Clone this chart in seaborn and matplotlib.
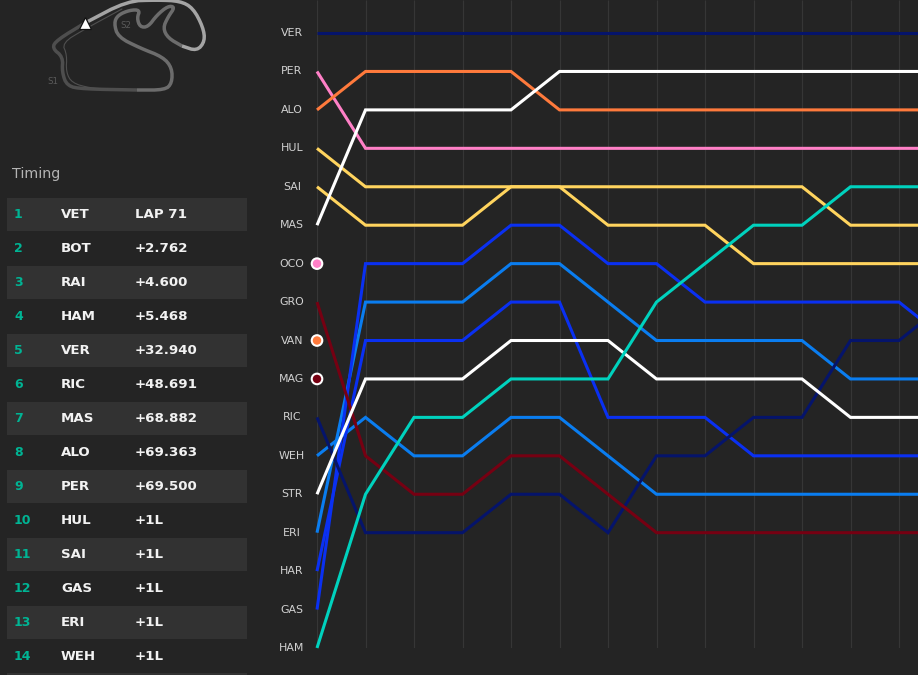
import matplotlib
matplotlib.use('Agg')
import matplotlib.pyplot as plt
import numpy as np
import pandas as pd
import seaborn as sns

# --- data ---
start_order = ['VER', 'PER', 'ALO', 'HUL', 'SAI', 'MAS', 'OCO', 'GRO', 'VAN', 'MAG',
               'RIC', 'WEH', 'STR', 'ERI', 'HAR', 'GAS', 'HAM']

laps = list(range(14))
pos_VER = [1, 1, 1, 1, 1, 1, 1, 1, 1, 1, 1, 1, 1, 1]
pos_PER = [2, 4, 4, 4, 4, 4, 4, 4, 4, 4, 4, 4, 4, 4]
pos_ALO = [3, 2, 2, 2, 2, 3, 3, 3, 3, 3, 3, 3, 3, 3]
pos_HUL = [4, 5, 5, 5, 5, 5, 5, 5, 5, 5, 5, 6, 6, 6]
pos_SAI = [5, 6, 6, 6, 5, 5, 6, 6, 6, 7, 7, 7, 7, 7]
pos_MAS = [6, 3, 3, 3, 3, 2, 2, 2, 2, 2, 2, 2, 2, 2]
pos_GRO = [8, 12, 13, 13, 12, 12, 13, 14, 14, 14, 14, 14, 14, 14]
pos_RIC = [11, 14, 14, 14, 13, 13, 14, 12, 12, 11, 11, 9, 9, 8]
pos_WEH = [12, 11, 12, 12, 11, 11, 12, 13, 13, 13, 13, 13, 13, 13]
pos_STR = [13, 10, 10, 10, 9, 9, 9, 10, 10, 10, 10, 11, 11, 11]
pos_ERI = [14, 8, 8, 8, 7, 7, 8, 9, 9, 9, 9, 10, 10, 10]
pos_HAR = [15, 9, 9, 9, 8, 8, 11, 11, 11, 12, 12, 12, 12, 12]
pos_GAS = [16, 7, 7, 7, 6, 6, 7, 7, 8, 8, 8, 8, 8, 9]
pos_HAM = [17, 13, 11, 11, 10, 10, 10, 8, 7, 6, 6, 5, 5, 5]

retired = ['OCO', 'VAN', 'MAG']

timing_names = ['VET', 'BOT', 'RAI', 'HAM', 'VER', 'RIC', 'MAS', 'ALO', 'PER', 'HUL',
                'SAI', 'GAS', 'ERI', 'WEH']
timing_gaps = ['LAP 71', '+2.762', '+4.600', '+5.468', '+32.940', '+48.691', '+68.882',
               '+69.363', '+69.500', '+1L', '+1L', '+1L', '+1L', '+1L']

driver_colors = {
    'VER': '#05146b', 'RIC': '#05146b',
    'PER': '#ff80c7', 'OCO': '#ff80c7',
    'ALO': '#ff7a3c', 'VAN': '#ff7a3c',
    'HUL': '#ffd45e', 'SAI': '#ffd45e',
    'MAS': '#ffffff', 'STR': '#ffffff',
    'GRO': '#760012', 'MAG': '#760012',
    'WEH': '#0a7df0', 'ERI': '#0a7df0',
    'HAR': '#0a30f2', 'GAS': '#0a30f2',
    'HAM': '#00d2be',
}

# track map outline, pixels of the figure
track_bright = [(85, 23), (127, 1), (157, 0), (180, 1), (193, 8), (203, 27), (205, 41),
                (197, 51), (182, 46)]
track_mid = [(182, 46), (168, 38), (163, 28), (168, 17), (175, 7), (168, 6), (157, 15),
             (148, 27), (140, 27), (137, 18), (140, 10), (130, 10), (118, 15), (114, 23),
             (118, 37), (140, 48), (163, 57), (172, 68), (172, 83), (165, 90), (137, 90)]
track_dark = [(137, 90), (83, 89), (67, 86), (62, 72), (63, 57), (52, 48), (57, 40), (85, 23)]
pit_lane = [(122, 9), (85, 29), (62, 43), (67, 55), (66, 72), (72, 83), (90, 88), (108, 89)]


def smooth(path, passes=2):
    # corner cutting so the circuit does not look polygonal
    pts = np.array(path, dtype=float)
    for _ in range(passes):
        q = 0.75 * pts[:-1] + 0.25 * pts[1:]
        r = 0.25 * pts[:-1] + 0.75 * pts[1:]
        mid = np.empty((len(q) + len(r), 2))
        mid[0::2] = q
        mid[1::2] = r
        pts = np.vstack([pts[0], mid, pts[-1]])
    return pts


BG = '#242424'
W, H = 918, 675

rows = [(lap, p, name) for name, vals in [
    ('WEH', pos_WEH), ('ERI', pos_ERI), ('HAR', pos_HAR), ('GAS', pos_GAS),
    ('RIC', pos_RIC), ('GRO', pos_GRO), ('VER', pos_VER), ('SAI', pos_SAI), ('HUL', pos_HUL),
    ('STR', pos_STR), ('HAM', pos_HAM), ('PER', pos_PER), ('ALO', pos_ALO), ('MAS', pos_MAS),
] for lap, p in zip(laps, vals)]
df = pd.DataFrame(rows, columns=['lap', 'position', 'driver'])

sns.set_style('dark')
plt.rcParams['font.family'] = ['DejaVu Sans']

fig = plt.figure(figsize=(W / 100, H / 100), dpi=100, facecolor=BG)

# pixel-space panel behind everything for the left column
bg = fig.add_axes([0, 0, 1, 1])
bg.set_xlim(0, W)
bg.set_ylim(H, 0)
bg.axis('off')

for i, (name, gap) in enumerate(zip(timing_names, timing_gaps)):
    y = 213.5 + 34 * i
    if i % 2 == 0:
        bg.fill_between([7, 247], y - 15.5, y + 17.5, color='#323232', lw=0)
    bg.text(14, y, str(i + 1), color='#00b494', fontsize=9, fontweight='bold', va='center_baseline')
    bg.text(61, y, name, color='#f2f2f2', fontsize=9.6, fontweight='bold', va='center_baseline')
    bg.text(135, y, gap, color='#f2f2f2', fontsize=9.6, fontweight='bold', va='center_baseline')
# next row starts below the crop
bg.fill_between([7, 247], 673, 675, color='#323232', lw=0)

bg.text(12, 172.5, 'Timing', color='#b4b4b4', fontsize=10.3, va='center_baseline')

for path, col in [(track_dark, '#4e4e4e'), (track_mid, '#6c6c6c'), (track_bright, '#a4a4a4')]:
    pts = smooth(path)
    bg.plot(pts[:, 0], pts[:, 1], color=col, lw=2.5, solid_joinstyle='round', solid_capstyle='butt')
pts = smooth(pit_lane)
bg.plot(pts[:, 0], pts[:, 1], color='#505050', lw=0.8)
bg.plot([85], [22.5], marker='^', ms=8, mfc='white', mec='#111111', mew=0.9)
bg.text(47, 81.5, 'S1', color='#5a5a5a', fontsize=6.2, va='center')
bg.text(120, 25.5, 'S2', color='#5a5a5a', fontsize=6.2, va='center')

# position chart
ROW = 38.41
LAP = 48.5
ax = fig.add_axes([317 / W, 1 - 648 / H, (W - 317) / W, 648 / H])
ax.set_facecolor('none')
sns.lineplot(data=df, x='lap', y='position', hue='driver', palette=driver_colors,
             hue_order=list(dict.fromkeys(df['driver'])), estimator=None, sort=False,
             legend=False, lw=2.2, ax=ax, solid_joinstyle='miter', solid_capstyle='butt',
             clip_on=False)
ax.vlines(laps, 1 - 33 / ROW, 17, color='#363636', lw=0.85, zorder=0)
ax.set_xlim(0, (W - 317) / LAP)
ax.set_ylim(17, 1 - 33 / ROW)
ax.axis('off')

for i, name in enumerate(start_order):
    ax.annotate(name, (0, i + 1), xytext=(-25, 0), textcoords='offset pixels',
                color='#d2d2d2', fontsize=7.9, ha='center', va='center', annotation_clip=False)

ret_x = [0] * len(retired)
ret_y = [start_order.index(d) + 1 for d in retired]
ret_c = [driver_colors[d] for d in retired]
ax.scatter(ret_x, ret_y, s=58, c=ret_c, edgecolors='white', linewidths=1.5, clip_on=False, zorder=5)

fig.savefig('out.png', dpi=100, facecolor=BG)
